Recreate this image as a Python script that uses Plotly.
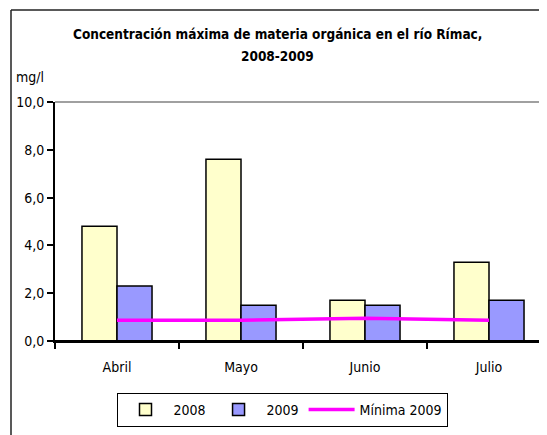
import plotly.graph_objects as go

meses = ["Abril", "Mayo", "Junio", "Julio"]
v2008 = [4.8, 7.6, 1.7, 3.3]
v2009 = [2.3, 1.5, 1.5, 1.7]
minima2009 = [0.87, 0.87, 0.95, 0.87]

FONT = "DejaVu Sans Condensed, Liberation Sans Narrow, Arial Narrow, Liberation Sans, Arial"

fig = go.Figure()
fig.add_trace(go.Bar(x=meses, y=v2008, name="2008",
                     marker=dict(color="#FFFFCC", line=dict(color="black", width=1.5))))
fig.add_trace(go.Bar(x=meses, y=v2009, name="2009",
                     marker=dict(color="#9999FF", line=dict(color="black", width=1.5))))
fig.add_trace(go.Scatter(x=meses, y=minima2009, name="Mínima 2009", mode="lines",
                         line=dict(color="#FF00FF", width=3.5)))

# page body adds an 8px offset; coordinates below are in screen pixels
OFF = 8
W, H = 547 - OFF, 435 - OFF
L = 55 - OFF
T = 102 - OFF
BOT = 341 - OFF
B = H - BOT
R = 0
pw = W - L - R
ph = H - T - B


def px(x):
    return (x - OFF - L) / pw


def py(y):
    return (BOT - (y - OFF)) / ph


fig.update_layout(
    width=W, height=H,
    margin=dict(l=L, r=R, t=T, b=B, autoexpand=False),
    paper_bgcolor="white", plot_bgcolor="white",
    separators=",.",
    font=dict(family=FONT, size=13, color="black"),
    barmode="group", bargap=0.435, bargroupgap=0,
    showlegend=True,
    legend=dict(orientation="h", x=px(282), xanchor="center", y=py(393), yanchor="top",
                bordercolor="black", borderwidth=1, font=dict(family=FONT, size=14),
                traceorder="normal", itemwidth=46),
    xaxis=dict(type="category", range=[-0.5, -0.5 + pw / 124.0],
               showline=True, linecolor="black", linewidth=2,
               ticks="outside", tickson="boundaries", ticklen=6, tickwidth=2, tickcolor="black",
               showgrid=False, tickfont=dict(family=FONT, size=14), ticklabelstandoff=12),
    yaxis=dict(range=[0, 10], tickvals=[0, 2, 4, 6, 8, 10], tickformat=".1f",
               showline=True, linecolor="black", linewidth=2,
               ticks="outside", ticklen=6, tickwidth=2, tickcolor="black",
               showgrid=False, zeroline=False, tickfont=dict(family=FONT, size=14)),
    shapes=[
        dict(type="line", xref="paper", yref="paper", x0=0, x1=px(560), y0=1, y1=1,
             line=dict(color="#808080", width=1.5), layer="below"),
        dict(type="line", xref="paper", yref="paper", x0=0, x1=px(560), y0=0, y1=0,
             line=dict(color="black", width=2), layer="above"),
        dict(type="line", xref="paper", yref="paper", x0=px(11), x1=px(11), y0=py(10), y1=py(450),
             line=dict(color="#222222", width=1.5)),
        dict(type="line", xref="paper", yref="paper", x0=px(11), x1=px(560), y0=py(10), y1=py(10),
             line=dict(color="#222222", width=1.5)),
    ],
    annotations=[
        dict(text="<b>Concentración máxima de materia orgánica en el río Rímac,</b>",
             xref="paper", yref="paper", x=px(277), y=py(34), xanchor="center", yanchor="middle",
             showarrow=False, font=dict(family=FONT, size=13.5)),
        dict(text="<b>2008-2009</b>",
             xref="paper", yref="paper", x=px(277), y=py(56), xanchor="center", yanchor="middle",
             showarrow=False, font=dict(family=FONT, size=13.5)),
        dict(text="mg/l", xref="paper", yref="paper", x=px(14), y=py(77), xanchor="left",
             yanchor="middle", showarrow=False, font=dict(family=FONT, size=14)),
    ],
)

fig.write_html("out.html")
